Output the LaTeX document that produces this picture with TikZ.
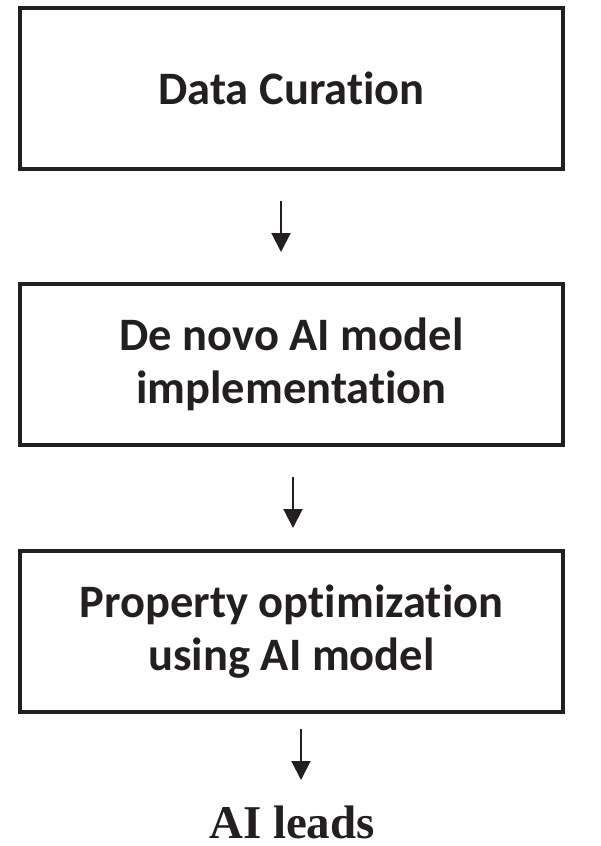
\documentclass[tikz,border=0pt]{standalone}
\usepackage{fontspec}
\setmainfont[Ligatures=NoCommon]{Carlito}
\newfontfamily\leadfont{Liberation Serif}
\usetikzlibrary{arrows.meta}
\definecolor{ink}{HTML}{231F20}
\begin{document}
\begin{tikzpicture}[x=1pt,y=-1pt,
  stepbox/.style={draw=ink,line width=3.4pt,minimum width=543pt,minimum height=161pt,
    inner sep=0pt,align=center,text=ink,font=\fontsize{46.5}{53}\selectfont\bfseries},
  flow/.style={draw=ink,line width=2pt,-{Triangle[length=19pt,width=19pt]}}]
\useasboundingbox (0,0) rectangle (601,846);
\node[stepbox] (b1) at (291.5,88.5) {Data Curation};
\node[stepbox] (b2) at (291.5,364.5) {De novo AI model\\implementation};
\node[stepbox] (b3) at (291.5,631.5) {Property optimization\\using AI model};
\node[text=ink,inner sep=0pt,font=\leadfont\fontsize{47}{50}\selectfont\bfseries,anchor=base] (lead) at (292,838) {AI leads};
\coordinate (a1s) at (281,201); \coordinate (a1e) at (281,252);
\coordinate (a2s) at (293,477); \coordinate (a2e) at (293,528);
\coordinate (a3s) at (301,729); \coordinate (a3e) at (301,780);
\draw[flow] (a1s) -- (a1e);
\draw[flow] (a2s) -- (a2e);
\draw[flow] (a3s) -- (a3e);
\end{tikzpicture}
\end{document}
